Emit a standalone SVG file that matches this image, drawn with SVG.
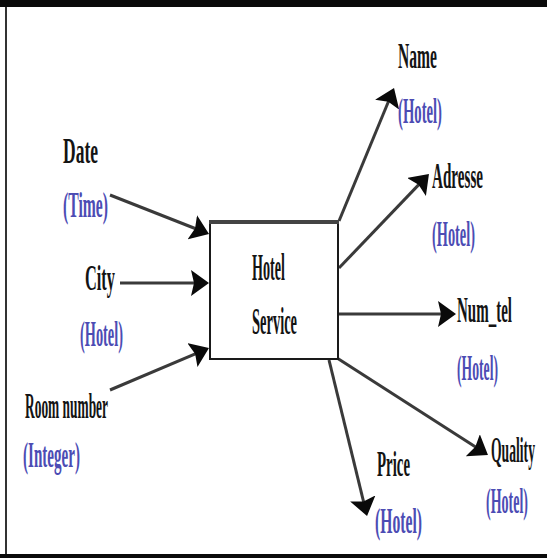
<svg xmlns="http://www.w3.org/2000/svg" width="547" height="558" viewBox="0 0 547 558">
  <style>
    .lbl { font-family: "Liberation Serif", "Times New Roman", serif; font-weight: bold; font-size: 35px; fill: #141414; }
    .typ { font-family: "Liberation Serif", "Times New Roman", serif; font-weight: bold; font-size: 36px; fill: #4c4cb4; }
    .box-txt { font-size: 37px; }
    .conn { stroke: #3a3a3a; stroke-width: 3; fill: none; marker-end: url(#head); }
  </style>
  <defs>
    <marker id="head" viewBox="0 0 18 26" refX="14" refY="13" markerWidth="18" markerHeight="26" markerUnits="userSpaceOnUse" orient="auto">
      <path d="M0,0 L18,13 L0,26 L3,13 z" fill="#0a0a0a"/>
    </marker>
  </defs>

  <rect width="547" height="558" fill="#ffffff"/>
  <!-- outer frame -->
  <rect x="0" y="0" width="547" height="7" fill="#0a0a0a"/>
  <rect x="5" y="7" width="2" height="548" fill="#333"/>
  <rect x="0" y="554" width="547" height="4" fill="#0a0a0a"/>

  <!-- connectors -->
  <g id="connectors">
    <line class="conn" x1="110" y1="195" x2="205.3" y2="232.5"/>
    <line class="conn" x1="120" y1="283" x2="205" y2="283"/>
    <line class="conn" x1="110" y1="390" x2="205.3" y2="349.6"/>
    <line class="conn" x1="339" y1="221" x2="392.5" y2="91.7"/>
    <line class="conn" x1="339" y1="268" x2="426.2" y2="176.9"/>
    <line class="conn" x1="339" y1="314" x2="452" y2="314"/>
    <line class="conn" x1="337" y1="358" x2="484.6" y2="452.8"/>
    <line class="conn" x1="329" y1="360" x2="366.1" y2="512.1"/>
  </g>

  <!-- service box; labels are drawn half-width (scale 0.5 on x) -->
  <g id="hotel-service">
    <rect x="210" y="222" width="128" height="137" fill="#ffffff" stroke="#1a1a1a" stroke-width="2"/>
    <line x1="209" y1="222" x2="339" y2="222" stroke="#444" stroke-width="4"/>
    <text class="lbl box-txt" transform="translate(252,280) scale(0.5,1)" textLength="66" lengthAdjust="spacingAndGlyphs">Hotel</text>
    <text class="lbl box-txt" transform="translate(252,334) scale(0.5,1)" textLength="90" lengthAdjust="spacingAndGlyphs">Service</text>
  </g>

  <!-- inputs -->
  <g id="date">
    <text class="lbl" transform="translate(63,163) scale(0.5,1)" textLength="70" lengthAdjust="spacingAndGlyphs">Date</text>
    <text class="typ" transform="translate(63,217) scale(0.5,1)" textLength="90" lengthAdjust="spacingAndGlyphs">(Time)</text>
  </g>
  <g id="city">
    <text class="lbl" transform="translate(85,290) scale(0.5,1)" textLength="60" lengthAdjust="spacingAndGlyphs">City</text>
    <text class="typ" transform="translate(80,346) scale(0.5,1)" textLength="86" lengthAdjust="spacingAndGlyphs">(Hotel)</text>
  </g>
  <g id="room-number">
    <text class="lbl" transform="translate(25,418) scale(0.5,1)" textLength="166" lengthAdjust="spacingAndGlyphs">Room number</text>
    <text class="typ" transform="translate(23,467) scale(0.5,1)" textLength="114" lengthAdjust="spacingAndGlyphs">(Integer)</text>
  </g>

  <!-- outputs -->
  <g id="name">
    <text class="lbl" transform="translate(398,68) scale(0.5,1)" textLength="78" lengthAdjust="spacingAndGlyphs">Name</text>
    <text class="typ" transform="translate(398,123) scale(0.5,1)" textLength="88" lengthAdjust="spacingAndGlyphs">(Hotel)</text>
  </g>
  <g id="adresse">
    <text class="lbl" transform="translate(432,188) scale(0.5,1)" textLength="102" lengthAdjust="spacingAndGlyphs">Adresse</text>
    <text class="typ" transform="translate(432,246) scale(0.5,1)" textLength="86" lengthAdjust="spacingAndGlyphs">(Hotel)</text>
  </g>
  <g id="num-tel">
    <text class="lbl" transform="translate(457,322) scale(0.5,1)" textLength="110" lengthAdjust="spacingAndGlyphs">Num_tel</text>
    <text class="typ" transform="translate(457,380) scale(0.5,1)" textLength="82" lengthAdjust="spacingAndGlyphs">(Hotel)</text>
  </g>
  <g id="quality">
    <text class="lbl" transform="translate(491,462) scale(0.5,1)" textLength="88" lengthAdjust="spacingAndGlyphs">Quality</text>
    <text class="typ" transform="translate(486,513) scale(0.5,1)" textLength="84" lengthAdjust="spacingAndGlyphs">(Hotel)</text>
  </g>
  <g id="price">
    <text class="lbl" transform="translate(377,476) scale(0.5,1)" textLength="66" lengthAdjust="spacingAndGlyphs">Price</text>
    <text class="typ" transform="translate(375,533) scale(0.5,1)" textLength="94" lengthAdjust="spacingAndGlyphs">(Hotel)</text>
  </g>
</svg>
